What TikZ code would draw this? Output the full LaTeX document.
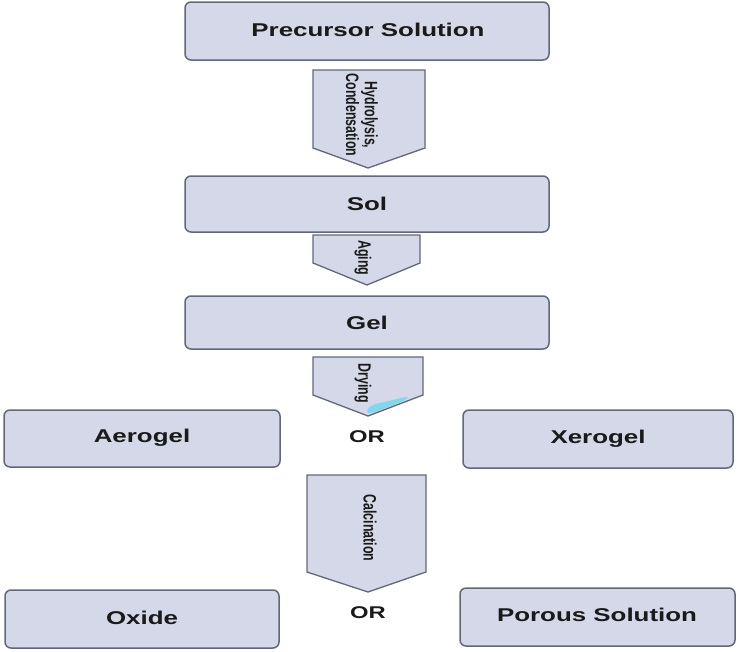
\documentclass[tikz,border=0pt]{standalone}
\usepackage{fontspec}
\setmainfont{Liberation Sans}
\usetikzlibrary{calc}
\definecolor{boxfill}{HTML}{D4D8E8}
\definecolor{boxline}{HTML}{626878}
\definecolor{txt}{HTML}{1A1A1A}
\definecolor{splash}{HTML}{80D8EA}
\tikzset{
  stagebox/.style={draw=boxline, fill=boxfill, line width=1.5pt, rounded corners=6pt, inner sep=0pt},
  stagetext/.style={text=txt, font=\bfseries\fontsize{18.5}{20}\selectfont},
  ortext/.style={text=txt, font=\bfseries\fontsize{17}{19}\selectfont},
  steparrow/.style={draw=boxline, fill=boxfill, line width=1.3pt, line join=miter},
  steplabel/.style={text=txt, font=\bfseries\fontsize{12.4}{13}\selectfont, rotate=-90, align=center, inner sep=0pt}
}
\newcommand{\wide}[1]{\scalebox{1.4}[1]{#1}}
\newcommand{\tall}[1]{\scalebox{1}[1.45]{#1}}
\begin{document}
\begin{tikzpicture}[x=1pt,y=-1pt]
\useasboundingbox (0,0) rectangle (738,651);
% boxes
\path[stagebox] (185,2) rectangle (549,60);
\node[stagetext] (prec) at (368,30) {\wide{Precursor Solution}};
\path[stagebox] (185,176) rectangle (549,232);
\node[stagetext] (sol) at (367,204) {\wide{Sol}};
\path[stagebox] (185,296) rectangle (549,349);
\node[stagetext] (gel) at (367,323) {\wide{Gel}};
\path[stagebox] (4,410) rectangle (280,467);
\node[stagetext] (aero) at (142,438) {\wide{Aerogel}};
\path[stagebox] (463,410) rectangle (733,468);
\node[stagetext] (xero) at (598,439) {\wide{Xerogel}};
\path[stagebox] (5,590) rectangle (279,648);
\node[stagetext] (oxide) at (142,618) {\wide{Oxide}};
\path[stagebox] (460,588) rectangle (735,646);
\node[stagetext] (porous) at (597,615) {\wide{Porous Solution}};
\node[ortext] (or1) at (367,437) {\wide{OR}};
\node[ortext] (or2) at (368,613) {\wide{OR}};
% step arrows
\draw[steparrow] (313,70) -- (425,70) -- (425,148) -- (368,168) -- (313,148) -- cycle;
\node[steplabel] (hyd) at (362,115) {\tall{Hydrolysis,}\\[1pt]\tall{Condensation}};
\draw[steparrow] (313,235) -- (420,235) -- (420,263) -- (367,285) -- (313,263) -- cycle;
\node[steplabel] (aging) at (363,258) {\tall{Aging}};
\draw[steparrow] (313,357) -- (423,357) -- (423,395) -- (368,416) -- (313,395) -- cycle;
\node[steplabel] (dry) at (363,383) {\tall{Drying}};
\fill[splash] (367,411) .. controls (368,406) and (374,404) .. (384,402) .. controls (394,400) and (402,397) .. (408,397) .. controls (406,401) and (396,404) .. (388,407) .. controls (380,410) and (374,413) .. (368,413) -- cycle;
\draw[steparrow] (307,475) -- (426,475) -- (426,572) -- (368,592) -- (307,572) -- cycle;
\node[steplabel] (calc) at (370,528) {\tall{Calcination}};
\end{tikzpicture}
\end{document}
